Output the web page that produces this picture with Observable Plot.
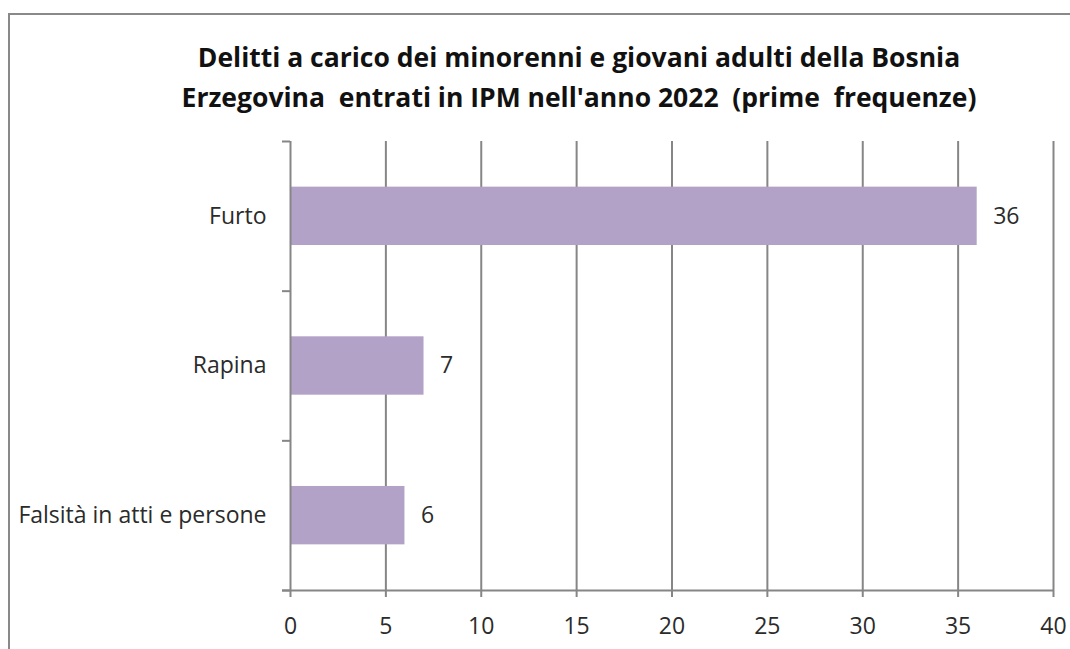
<!DOCTYPE html>
<html>
<head>
<meta charset="utf-8">
<script src="https://cdn.jsdelivr.net/npm/d3@7"></script>
<script src="https://cdn.jsdelivr.net/npm/@observablehq/plot@0.6"></script>
<style>
  html, body { margin: 0; padding: 0; background: #fff; overflow: hidden; }
  body { width: 1070px; height: 649px; position: relative; font-family: "Open Sans", sans-serif; }
  #frame { position: absolute; left: 8px; top: 13px; width: 1120px; height: 700px; border: 2px solid #898989; box-sizing: border-box; }
  #title { position: absolute; left: 579px; top: 37px; transform: translateX(-50%); white-space: pre; text-align: center;
           font-weight: bold; font-size: 26.5px; line-height: 40px; color: #111; }
  #chart { position: absolute; left: 0; top: 128px; }
</style>
</head>
<body>
<div id="frame"></div>
<div id="title">Delitti a carico dei minorenni e giovani adulti della Bosnia
Erzegovina  entrati in IPM nell'anno 2022  (prime  frequenze)</div>
<div id="chart"></div>
<script>
const categories = ["Furto", "Rapina", "Falsità in atti e persone"];
const values = [36, 7, 6];
const xTicks = [0, 5, 10, 15, 20, 25, 30, 35, 40];

const data = categories.map((c, i) => ({cat: c, value: values[i], i}));
const gray = "#868686";
const textColor = "#2b2b2b";

const plot = Plot.plot({
  width: 1070,
  height: 521,
  marginLeft: 290,
  marginRight: 17,
  marginTop: 13,
  marginBottom: 59,
  style: {fontFamily: "'Open Sans', sans-serif", fontSize: "23px", color: textColor, background: "transparent"},
  x: {domain: [0, 40]},
  y: {domain: [0, categories.length], reverse: true},
  marks: [
    Plot.ruleX(xTicks.filter(t => t > 0), {stroke: gray, strokeWidth: 2}),
    Plot.rectX(data, {x1: 0, x2: "value", y1: d => d.i + 0.305, y2: d => d.i + 0.695, fill: "#B3A2C7"}),
    Plot.ruleX([0], {stroke: gray, strokeWidth: 2}),
    Plot.ruleY([categories.length], {stroke: gray, strokeWidth: 2, insetLeft: -8}),
    Plot.axisY({ticks: d3.range(categories.length + 1), tickSize: 8, tickFormat: () => "", stroke: gray, strokeWidth: 2, label: null}),
    Plot.axisX({ticks: xTicks, tickSize: 7, tickPadding: 20, stroke: gray, strokeWidth: 2, label: null, fontSize: 23, fill: textColor}),
    Plot.text(data, {x: 0, y: d => d.i + 0.5, text: "cat", textAnchor: "end", dx: -24, fontSize: 23, fill: textColor}),
    Plot.text(data, {x: "value", y: d => d.i + 0.5, text: d => String(d.value), textAnchor: "start", dx: 16, fontSize: 23, fill: textColor})
  ]
});
document.getElementById("chart").appendChild(plot);
</script>
</body>
</html>
